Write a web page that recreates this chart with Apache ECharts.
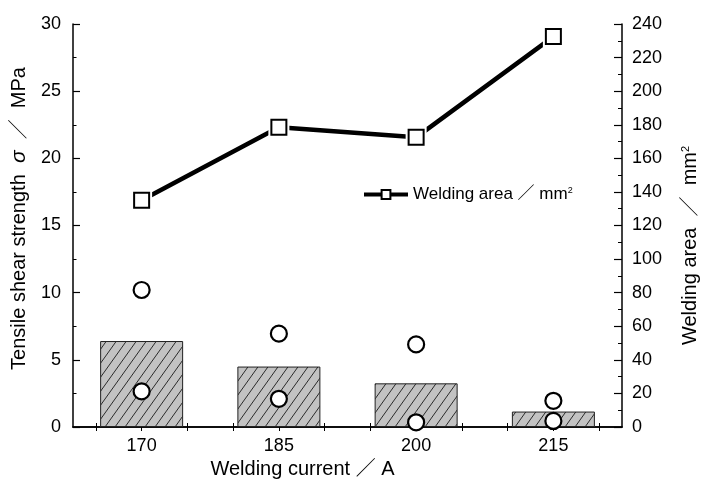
<!DOCTYPE html>
<html>
<head>
<meta charset="utf-8">
<script src="https://cdn.jsdelivr.net/npm/echarts@6/dist/echarts.min.js"></script>
<style>html,body{margin:0;padding:0;background:#fff;}#c{width:703px;height:479px;}</style>
</head>
<body>
<div id="c"></div>
<script>
// ---- data ----
const categories = [170, 185, 200, 215];          // welding current / A
const strengthBar = [6.4, 4.5, 3.25, 1.15];       // bar (left axis, MPa)
const strengthHigh = [10.2, 6.95, 6.15, 1.95];    // upper circles (MPa)
const strengthLow = [2.65, 2.1, 0.35, 0.45];      // lower circles (MPa)
const weldArea = [135, 178.5, 172.5, 232.5];      // line (right axis, mm2)
const xTickValues = [165, 170, 175, 180, 185, 190, 195, 200, 205, 210, 215, 220];

const areaName = 'Welding area \uFF0F mm2';
const FONT = 'Liberation Sans, Noto Sans CJK JP, sans-serif';

function hatch() {
  const c = document.createElement('canvas');
  c.width = 10; c.height = 14;
  const g = c.getContext('2d');
  g.fillStyle = '#c2c2c2';
  g.fillRect(0, 0, 10, 14);
  g.strokeStyle = '#2a2a2a';
  g.lineWidth = 1;
  for (const dx of [-10, 0, 10]) {
    g.beginPath(); g.moveTo(dx, 14); g.lineTo(dx + 10, 0); g.stroke();
  }
  return c;
}

const pairs = arr => categories.map((c, i) => [c, arr[i]]);
const chart = echarts.init(document.getElementById('c'), null, {renderer: 'canvas'});

const axisLine = {show: true, lineStyle: {color: '#000', width: 1.5}};
const label = {color: '#000', fontSize: 18, fontFamily: FONT};

chart.setOption({
  animation: false,
  grid: {left: 73, right: 81, top: 24, bottom: 52, containLabel: false, outerBoundsMode: 'none'},
  legend: {
    left: 357, top: 181,
    itemWidth: 44, itemHeight: 11,
    data: [{name: areaName, lineStyle: {width: 4, color: '#000', opacity: 1}}],
    formatter: () => '{a|Welding area \uFF0F mm}{s|2}',
    textStyle: {
      color: '#000', fontFamily: FONT, fontSize: 17,
      rich: {a: {fontSize: 17, fontFamily: FONT, color: '#000'}, s: {fontSize: 9, verticalAlign: 'top', color: '#000', fontFamily: FONT}}
    },
    itemGap: 4
  },
  xAxis: [{
    type: 'value', position: 'bottom', min: 162.5, max: 222.5,
    axisLine: axisLine,
    axisTick: {show: true, inside: true, length: 4, customValues: xTickValues, lineStyle: {color: '#000', width: 1}},
    axisLabel: Object.assign({margin: 10, customValues: categories}, label),
    splitLine: {show: false},
    name: 'Welding current \uFF0F A', nameLocation: 'middle', nameGap: 29,
    nameTextStyle: {color: '#000', fontSize: 20, fontFamily: FONT, padding: [0, 90, 0, 0]}
  }, {
    type: 'value', position: 'top', min: 162.5, max: 222.5,
    axisLine: axisLine,
    axisTick: {show: true, inside: true, length: 4, customValues: xTickValues, lineStyle: {color: '#000', width: 1}},
    axisLabel: {show: false},
    splitLine: {show: false}
  }],
  yAxis: [{
    type: 'value', min: 0, max: 30, interval: 5, position: 'left',
    axisLine: axisLine,
    axisTick: {show: true, inside: true, length: 7, lineStyle: {color: '#000', width: 1.2}},
    minorTick: {show: true, splitNumber: 2, length: 3.5, lineStyle: {color: '#000', width: 1}},
    axisLabel: Object.assign({margin: 12}, label),
    splitLine: {show: false},
    name: '{a|Tensile shear strength  }{i|\u03C3}{a|  \uFF0F  MPa}',
    nameLocation: 'middle', nameGap: 41,
    nameTextStyle: {
      color: '#000', fontSize: 20, fontFamily: FONT, padding: [0, 0, 0, 14],
      rich: {a: {fontSize: 20, fontFamily: FONT, color: '#000'}, i: {fontSize: 21, fontStyle: 'italic', fontFamily: FONT, color: '#000'}}
    }
  }, {
    type: 'value', min: 0, max: 240, interval: 20, position: 'right',
    axisLine: axisLine,
    axisTick: {show: true, inside: true, length: 8, lineStyle: {color: '#000', width: 1.2}},
    minorTick: {show: true, splitNumber: 2, length: 4, lineStyle: {color: '#000', width: 1}},
    axisLabel: Object.assign({margin: 10}, label),
    splitLine: {show: false},
    name: '{a|Welding area  \uFF0F  mm}{s|2}',
    nameLocation: 'middle', nameGap: 58,
    nameTextStyle: {
      color: '#000', fontSize: 20, fontFamily: FONT, padding: [0, 40, 0, 0],
      rich: {a: {fontSize: 20, fontFamily: FONT, color: '#000'}, s: {fontSize: 11, verticalAlign: 'top', fontFamily: FONT, color: '#000'}}
    }
  }],
  series: [{
    name: 'bar', type: 'bar', xAxisIndex: 0, yAxisIndex: 0,
    data: pairs(strengthBar), barWidth: 83, z: 2,
    itemStyle: {color: {image: hatch(), repeat: 'repeat'}, borderColor: '#222', borderWidth: 1}
  }, {
    name: 'high', type: 'scatter', xAxisIndex: 0, yAxisIndex: 0,
    data: pairs(strengthHigh), symbol: 'circle', symbolSize: 16, z: 3, clip: false,
    itemStyle: {color: '#fff', borderColor: '#000', borderWidth: 2.2, opacity: 1}
  }, {
    name: 'low', type: 'scatter', xAxisIndex: 0, yAxisIndex: 0,
    data: pairs(strengthLow), symbol: 'circle', symbolSize: 16, z: 3, clip: false,
    itemStyle: {color: '#fff', borderColor: '#000', borderWidth: 2.2, opacity: 1}
  }, {
    name: 'areaLine', type: 'line', xAxisIndex: 0, yAxisIndex: 1,
    data: pairs(weldArea), showSymbol: false, z: 2,
    lineStyle: {color: '#000', width: 4.5}
  }, {
    name: 'halo', type: 'scatter', xAxisIndex: 0, yAxisIndex: 1, silent: true,
    data: pairs(weldArea), symbol: 'rect', symbolSize: 21, z: 3,
    itemStyle: {color: '#fff', opacity: 1}
  }, {
    name: areaName, type: 'line', xAxisIndex: 0, yAxisIndex: 1,
    data: pairs(weldArea), symbol: 'rect', symbolSize: 15, showSymbol: true, z: 4,
    lineStyle: {color: '#000', width: 4, opacity: 0},
    itemStyle: {color: '#fff', borderColor: '#000', borderWidth: 2}
  }]
});
</script>
</body>
</html>
